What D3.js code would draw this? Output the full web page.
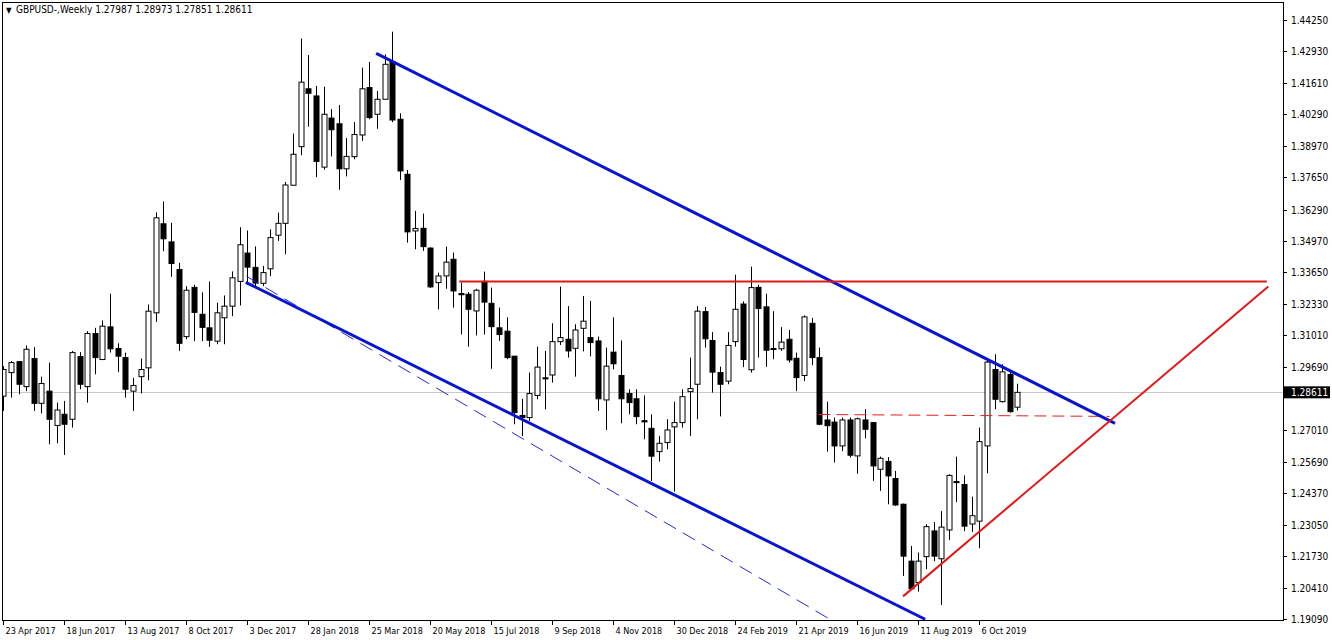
<!DOCTYPE html>
<html>
<head>
<meta charset="utf-8">
<script src="https://cdn.jsdelivr.net/npm/d3@7"></script>
<style>
  body { margin: 0; background: #fff; }
  text { font-family: "DejaVu Sans Condensed", "DejaVu Sans", sans-serif; font-size: 10px; fill: #000; }
  text.date { font-size: 9px; }
</style>
</head>
<body>
<svg id="chart" width="1332" height="640"></svg>
<script>
// weekly GBPUSD candles, first one is week of 23 Apr 2017
var startDate = new Date(2017, 3, 23)
var open = [1.2845,1.2944,1.2990,1.2885,1.3003,1.2815,1.2866,1.2722,1.2769,1.2748,1.3011,1.2885,1.3108,1.2999,1.3136,1.3045,1.3007,1.2866,1.2927,1.2964,
  1.3195,1.3569,1.3493,1.3377,1.3095,1.3302,1.3189,1.3132,1.3076,1.3174,1.3223,1.3327,1.3446,1.3386,1.3319,1.3380,1.3521,1.3571,1.3731,1.3893,
  1.4136,1.4106,1.3807,1.4013,1.3989,1.3800,1.3851,1.3942,1.4141,1.4029,1.4092,1.4250,1.4008,1.3777,1.3539,1.3550,1.3467,1.3322,1.3350,1.3420,
  1.3276,1.3273,1.3203,1.3327,1.3235,1.3132,1.3118,1.3013,1.2764,1.2755,1.2848,1.2922,1.2934,1.3074,1.3084,1.3046,1.3130,1.3091,1.3077,1.2829,
  1.3030,1.2932,1.2856,1.2834,1.2742,1.2710,1.2612,1.2650,1.2716,1.2734,1.2864,1.2895,1.3200,1.3079,1.2944,1.2908,1.3074,1.3232,1.2956,1.3302,
  1.3220,1.3045,1.3044,1.3084,1.3004,1.2932,1.3151,1.3007,1.2745,1.2736,1.2636,1.2745,1.2594,1.2745,1.2734,1.2538,1.2571,1.2499,1.2391,1.2152,
  1.2062,1.2171,1.2279,1.2162,1.2283,1.2486,1.2474,1.2308,1.2320,1.2636,1.2957,1.2822,1.2936,1.27987]
var high = [1.2971,1.2992,1.2992,1.3058,1.3051,1.2927,1.2986,1.2818,1.2825,1.3035,1.3030,1.3118,1.3132,1.3163,1.3275,1.3067,1.3028,1.2922,1.3003,1.3230,
  1.3617,1.3663,1.3573,1.3405,1.3307,1.3313,1.3281,1.3327,1.3237,1.3268,1.3369,1.3555,1.3541,1.3474,1.3392,1.3546,1.3616,1.3745,1.3948,1.4347,
  1.4278,1.4148,1.4145,1.4051,1.4068,1.3929,1.3996,1.4225,1.4249,1.4127,1.4281,1.4376,1.4033,1.3795,1.3623,1.3612,1.3470,1.3364,1.3473,1.3448,
  1.3322,1.3282,1.3296,1.3368,1.3301,1.3217,1.3176,1.3013,1.2834,1.2944,1.3053,1.3035,1.3151,1.3305,1.3223,1.3147,1.3266,1.3245,1.3095,1.3049,
  1.3176,1.3079,1.2874,1.2874,1.2848,1.2769,1.2678,1.2748,1.2822,1.2874,1.3007,1.3223,1.3220,1.3114,1.2969,1.3114,1.3355,1.3243,1.3389,1.3313,
  1.3275,1.3202,1.3135,1.3123,1.3028,1.3184,1.3174,1.3049,1.2822,1.2755,1.2755,1.2755,1.2755,1.2790,1.2734,1.2591,1.2589,1.2531,1.2394,1.2216,
  1.2188,1.2307,1.2316,1.2362,1.2517,1.2591,1.2512,1.2423,1.2713,1.3000,1.3021,1.2979,1.2950,1.28973]
var low = [1.2783,1.2839,1.2853,1.2866,1.2783,1.2773,1.2643,1.2647,1.2598,1.2713,1.2874,1.2818,1.2937,1.2996,1.3028,1.2946,1.2839,1.2783,1.2857,1.2912,
  1.3157,1.3454,1.3346,1.3035,1.3084,1.3076,1.3076,1.3052,1.3063,1.3063,1.3181,1.3226,1.3313,1.3307,1.3307,1.3349,1.3497,1.3441,1.3731,1.3857,
  1.3977,1.3765,1.3796,1.3852,1.3712,1.3768,1.3840,1.3917,1.4008,1.3968,1.4092,1.3996,1.3753,1.3490,1.3462,1.3455,1.3300,1.3210,1.3296,1.3217,
  1.3104,1.3053,1.3100,1.3104,1.2960,1.3077,1.3000,1.2727,1.2677,1.2741,1.2832,1.2790,1.2902,1.3060,1.3007,1.2927,1.3033,1.3012,1.2783,1.2703,
  1.2958,1.2731,1.2769,1.2727,1.2664,1.2489,1.2570,1.2622,1.2444,1.2713,1.2678,1.2748,1.3049,1.2860,1.2760,1.2895,1.3053,1.2967,1.2944,1.3007,
  1.2968,1.3000,1.3035,1.2986,1.2866,1.2908,1.2975,1.2723,1.2612,1.2566,1.2614,1.2587,1.2519,1.2668,1.2489,1.2447,1.2391,1.2384,1.2090,1.2033,
  1.2024,1.2118,1.2152,1.1968,1.2241,1.2400,1.2278,1.2274,1.2206,1.2521,1.2790,1.2818,1.2776,1.27851]
var close = [1.2957,1.2986,1.2895,1.3042,1.2815,1.2898,1.2748,1.2787,1.2727,1.3028,1.2895,1.3108,1.3007,1.3139,1.3044,1.3013,1.2874,1.2890,1.2957,1.3202,
  1.3594,1.3506,1.3402,1.3067,1.3290,1.3197,1.3134,1.3080,1.3195,1.3223,1.3342,1.3481,1.3387,1.3320,1.3364,1.3511,1.3571,1.3732,1.3861,1.4164,
  1.4117,1.3831,1.4029,1.3964,1.3800,1.3852,1.3944,1.4136,1.4015,1.4092,1.4239,1.4005,1.3791,1.3535,1.3549,1.3473,1.3304,1.3350,1.3408,1.3287,
  1.3271,1.3210,1.3290,1.3240,1.3137,1.3104,1.3007,1.2776,1.2756,1.2856,1.2967,1.2920,1.3074,1.3091,1.3035,1.3123,1.3160,1.3070,1.2834,1.2971,
  1.2981,1.2834,1.2818,1.2759,1.2737,1.2593,1.2647,1.2703,1.2734,1.2843,1.2877,1.3202,1.3086,1.2946,1.2895,1.3058,1.3210,1.2999,1.3301,1.3213,
  1.3038,1.3041,1.3072,1.2997,1.2923,1.3178,1.3007,1.2727,1.2721,1.2636,1.2745,1.2597,1.2750,1.2706,1.2552,1.2584,1.2510,1.2388,1.2173,1.2036,
  1.2152,1.2297,1.2173,1.2295,1.2512,1.2484,1.2299,1.2343,1.2654,1.2988,1.2832,1.2947,1.2780,1.28611]

var priceTicks = [1.44250,1.42930,1.41610,1.40290,1.38970,1.37650,1.36290,1.34970,1.33650,1.32330,
  1.31010,1.29690,1.28370,1.27010,1.25690,1.24370,1.23050,1.21730,1.20410,1.19090]
var lastPrice = 1.28611

// trend lines drawn on the chart: [bar index, price]
var upperChannel = [[48.9, 1.4285], [145.8, 1.2731]]
var lowerChannel = [[31.8, 1.3323], [120.9, 1.1908]]
var dashedChannel = [[31.9, 1.3348], [108.4, 1.1908]]
var resistance = [[59.8, 1.3327], [165.7, 1.3327]]
var supportLine = [[118, 1.2004], [165.9, 1.3306]]
var neckline = [[106.9, 1.2768], [145.1, 1.2760]]

var svg = d3.select("#chart")
var pLeft = 2, pRight = 1283, pTop = 2, pBottom = 620

var x = d3.scaleLinear().domain([0, 1]).range([3.3, 3.3 + 7.625])
var y = d3.scaleLinear().domain([1.1909, 1.4425]).range([619, 20])

svg.append("defs").append("clipPath").attr("id", "clip")
  .append("rect").attr("x", pLeft).attr("y", pTop).attr("width", pRight - pLeft).attr("height", pBottom - pTop)
var plot = svg.append("g").attr("clip-path", "url(#clip)")

// current price line
plot.append("line").attr("x1", pLeft).attr("x2", pRight)
  .attr("y1", Math.round(y(lastPrice)) + 0.5).attr("y2", Math.round(y(lastPrice)) + 0.5)
  .attr("stroke", "#c8c8c8").attr("stroke-width", 1)

var bars = d3.range(open.length)
plot.selectAll(".wick").data(bars).enter().append("line")
  .attr("x1", i => Math.round(x(i)) + 0.5).attr("x2", i => Math.round(x(i)) + 0.5)
  .attr("y1", i => y(high[i])).attr("y2", i => y(low[i]))
  .attr("stroke", "#000").attr("stroke-width", 1)

plot.selectAll(".body").data(bars).enter().append("rect")
  .attr("x", i => Math.round(x(i)) - 2)
  .attr("width", 5)
  .attr("y", i => y(Math.max(open[i], close[i])))
  .attr("height", i => Math.max(1, Math.abs(y(open[i]) - y(close[i]))))
  .attr("fill", i => close[i] >= open[i] ? "#fff" : "#000")
  .attr("stroke", "#000").attr("stroke-width", 1)

function drawLine(pts, color, width, dash) {
  var l = plot.append("line")
    .attr("x1", x(pts[0][0])).attr("y1", y(pts[0][1]))
    .attr("x2", x(pts[1][0])).attr("y2", y(pts[1][1]))
    .attr("stroke", color).attr("stroke-width", width)
  if (dash) l.attr("stroke-dasharray", dash)
}
drawLine(dashedChannel, "#2828d8", 1, "14,8")
drawLine(neckline, "#e02020", 1, "12,6")
drawLine(upperChannel, "#0a14d0", 3)
drawLine(lowerChannel, "#0a14d0", 3)
drawLine(resistance, "#e01818", 2)
drawLine(supportLine, "#e01818", 2)

// frame
svg.append("rect").attr("x", pLeft + 0.5).attr("y", pTop + 0.5)
  .attr("width", pRight - pLeft).attr("height", pBottom - pTop)
  .attr("fill", "none").attr("stroke", "#000")

// price axis
priceTicks.forEach(p => {
  if (Math.abs(y(p) - y(lastPrice)) < 8) return
  svg.append("line").attr("x1", pRight).attr("x2", pRight + 4)
    .attr("y1", Math.round(y(p)) + 0.5).attr("y2", Math.round(y(p)) + 0.5).attr("stroke", "#000")
  svg.append("text").attr("x", pRight + 8).attr("y", y(p) + 4).text(p.toFixed(5))
})
svg.append("rect").attr("x", pRight + 1).attr("y", y(lastPrice) - 6).attr("width", 46).attr("height", 12).attr("fill", "#000")
svg.append("text").attr("x", pRight + 8).attr("y", y(lastPrice) + 4).style("fill", "#fff").text(lastPrice.toFixed(5))

// time axis
var fmt = d3.timeFormat("%-d %b %Y")
d3.range(0, open.length, 8).forEach(i => {
  var d = d3.timeWeek.offset(startDate, i)
  var px = Math.round(x(i)) + 0.5
  svg.append("line").attr("x1", px).attr("x2", px).attr("y1", pBottom).attr("y2", pBottom + 5).attr("stroke", "#000")
  svg.append("text").attr("class", "date").attr("x", px + 2).attr("y", pBottom + 14).text(fmt(d))
})

// header
svg.append("text").attr("x", 6).attr("y", 13).style("font-size", "8px").text("▼")
svg.append("text").attr("x", 16).attr("y", 13)
  .text("GBPUSD-,Weekly  " + [open[open.length - 1], high[high.length - 1], low[low.length - 1], close[close.length - 1]].map(v => v.toFixed(5)).join(" "))
</script>
</body>
</html>
